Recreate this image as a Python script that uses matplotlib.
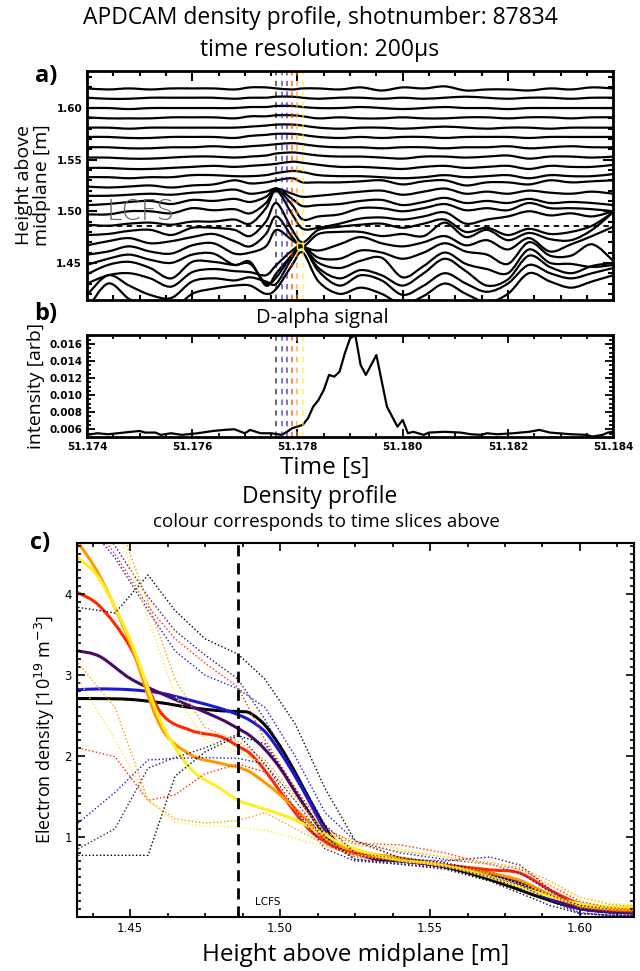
import numpy as np
import matplotlib
matplotlib.use("Agg")
import matplotlib.pyplot as plt
from matplotlib.path import Path
from matplotlib.patches import PathPatch
from matplotlib.ticker import MultipleLocator, FormatStrFormatter

plt.rcParams["font.family"] = ["Open Sans", "DejaVu Sans"]

# ---------- panel a: contour traces (time in ms after 51.174 s, height in mm) ----------
trace_t_ms = [0.0, 0.4, 0.8, 1.2, 1.6, 2.0, 2.4, 2.8, 3.1, 3.4, 3.6, 3.9, 4.1, 4.4, 4.8,
              5.2, 5.6, 6.0, 6.4, 6.8, 7.2, 7.6, 8.0, 8.4, 8.8, 9.2, 9.6, 10.0]
trace_heights_mm = [
    [1619, 1618, 1619, 1618, 1619, 1619, 1619, 1618, 1620, 1620, 1619, 1618, 1619, 1619, 1618, 1620, 1617, 1620, 1619, 1621, 1617, 1618, 1618, 1617, 1619, 1618, 1620, 1619],
    [1610, 1609, 1609, 1610, 1610, 1610, 1610, 1609, 1610, 1610, 1611, 1611, 1610, 1609, 1610, 1610, 1609, 1610, 1609, 1610, 1611, 1610, 1609, 1610, 1610, 1609, 1610, 1610],
    [1600, 1600, 1599, 1600, 1600, 1600, 1600, 1600, 1601, 1601, 1602, 1602, 1601, 1600, 1600, 1601, 1600, 1599, 1600, 1601, 1600, 1600, 1599, 1600, 1600, 1600, 1600, 1600],
    [1591, 1590, 1590, 1590, 1591, 1591, 1591, 1590, 1592, 1592, 1593, 1593, 1592, 1590, 1591, 1590, 1590, 1591, 1590, 1590, 1591, 1591, 1590, 1591, 1591, 1590, 1591, 1591],
    [1581, 1581, 1580, 1581, 1581, 1581, 1581, 1581, 1582, 1583, 1584, 1584, 1583, 1581, 1580, 1581, 1581, 1580, 1581, 1582, 1581, 1580, 1581, 1581, 1580, 1581, 1581, 1581],
    [1572, 1572, 1571, 1571, 1572, 1572, 1572, 1571, 1573, 1574, 1575, 1575, 1574, 1572, 1571, 1572, 1571, 1572, 1572, 1571, 1572, 1572, 1572, 1571, 1572, 1572, 1572, 1572],
    [1562, 1562, 1561, 1561, 1562, 1562, 1563, 1562, 1563, 1564, 1565, 1566, 1565, 1563, 1562, 1562, 1561, 1562, 1562, 1561, 1562, 1562, 1563, 1561, 1562, 1563, 1562, 1562],
    [1552, 1552, 1551, 1551, 1552, 1553, 1553, 1552, 1553, 1554, 1556, 1557, 1556, 1554, 1553, 1553, 1552, 1551, 1553, 1553, 1552, 1553, 1554, 1551, 1553, 1553, 1552, 1553],
    [1542, 1542, 1541, 1541, 1542, 1543, 1544, 1543, 1544, 1545, 1546, 1548, 1547, 1545, 1543, 1543, 1542, 1541, 1543, 1544, 1542, 1543, 1544, 1541, 1544, 1543, 1543, 1545],
    [1533, 1533, 1532, 1533, 1533, 1535, 1535, 1534, 1534, 1535, 1537, 1539, 1538, 1535, 1534, 1534, 1533, 1532, 1533, 1535, 1533, 1534, 1535, 1532, 1535, 1534, 1534, 1536],
    [1524, 1523, 1524, 1525, 1523, 1525, 1526, 1530, 1527, 1528, 1530, 1532, 1528, 1528, 1528, 1529, 1530, 1526, 1529, 1530, 1525, 1528, 1528, 1526, 1530, 1528, 1529, 1530],
    [1515, 1515, 1516, 1517, 1516, 1518, 1519, 1521, 1517, 1519, 1522, 1517, 1514, 1515, 1517, 1519, 1520, 1516, 1519, 1522, 1517, 1519, 1517, 1520, 1518, 1517, 1519, 1517],
    [1506, 1507, 1509, 1510, 1507, 1511, 1510, 1512, 1509, 1514, 1522, 1512, 1505, 1506, 1507, 1510, 1511, 1506, 1509, 1513, 1508, 1510, 1508, 1512, 1508, 1509, 1508, 1506],
    [1497, 1497, 1500, 1500, 1498, 1503, 1501, 1502, 1498, 1508, 1521, 1506, 1492, 1495, 1497, 1503, 1503, 1500, 1503, 1507, 1501, 1503, 1501, 1508, 1503, 1503, 1502, 1500],
    [1487, 1486, 1488, 1489, 1487, 1490, 1490, 1492, 1488, 1503, 1520, 1497, 1483, 1484, 1488, 1493, 1494, 1492, 1495, 1499, 1488, 1492, 1495, 1500, 1496, 1498, 1495, 1500],
    [1477, 1478, 1481, 1482, 1477, 1484, 1484, 1482, 1476, 1490, 1508, 1482, 1470, 1482, 1485, 1487, 1488, 1484, 1488, 1492, 1480, 1484, 1477, 1483, 1478, 1480, 1486, 1499],
    [1467, 1471, 1474, 1469, 1471, 1475, 1478, 1471, 1466, 1478, 1495, 1475, 1466, 1478, 1480, 1480, 1476, 1478, 1476, 1489, 1475, 1482, 1472, 1479, 1473, 1472, 1482, 1499],
    [1458, 1461, 1466, 1461, 1459, 1467, 1469, 1459, 1460, 1466, 1482, 1472, 1466, 1462, 1468, 1475, 1469, 1466, 1470, 1476, 1467, 1472, 1463, 1474, 1461, 1468, 1476, 1485],
    [1448, 1454, 1458, 1453, 1450, 1458, 1459, 1448, 1451, 1428, 1440, 1458, 1466, 1455, 1454, 1462, 1460, 1454, 1460, 1469, 1461, 1458, 1449, 1470, 1457, 1457, 1468, 1452],
    [1439, 1448, 1451, 1445, 1435, 1451, 1451, 1448, 1449, 1430, 1436, 1458, 1465, 1450, 1445, 1452, 1455, 1436, 1447, 1460, 1449, 1444, 1440, 1463, 1450, 1449, 1446, 1448],
    [1430, 1438, 1440, 1435, 1427, 1441, 1444, 1442, 1441, 1438, 1448, 1462, 1466, 1445, 1435, 1443, 1438, 1428, 1440, 1454, 1442, 1428, 1434, 1457, 1446, 1440, 1447, 1450],
    [1419, 1438, 1428, 1419, 1416, 1432, 1435, 1433, 1436, 1432, 1430, 1455, 1466, 1442, 1428, 1438, 1433, 1419, 1428, 1440, 1430, 1422, 1430, 1448, 1440, 1435, 1440, 1445],
    [1405, 1430, 1415, 1406, 1404, 1420, 1425, 1428, 1428, 1420, 1425, 1448, 1460, 1432, 1420, 1426, 1420, 1410, 1418, 1430, 1420, 1412, 1420, 1440, 1432, 1426, 1432, 1438],
]
lcfs_height = 1.486

# time slices (shared by all panels)
slice_times = [51.1776, 51.1777, 51.1778, 51.1779, 51.1780, 51.1781]
slice_colors = ["#000000", "#1a1ad6", "#4a0a6a", "#ff2a00", "#ff9900", "#ffee22"]

# ---------- panel b: D-alpha signal ----------
dalpha_t_ms = [0.0, 0.2, 0.4, 0.7, 1.0, 1.1, 1.3, 1.4, 1.6, 1.8, 2.1, 2.4, 2.6, 2.8, 3.0,
               3.1, 3.3, 3.5, 3.7, 3.8, 3.9, 4.1, 4.2, 4.3, 4.4, 4.5, 4.6, 4.7, 4.8, 4.9,
               5.0, 5.1, 5.2, 5.3, 5.5, 5.7, 5.9, 6.0, 6.1, 6.2, 6.4, 6.5, 6.8, 7.1, 7.3,
               7.5, 7.6, 7.8, 8.1, 8.4, 8.6, 8.8, 9.2, 9.5, 9.6, 9.8, 9.9, 10.0]
dalpha_signal = [0.00534, 0.00553, 0.00541, 0.00561, 0.00580, 0.00561, 0.00561, 0.00534,
                 0.00553, 0.00534, 0.00553, 0.00580, 0.00592, 0.00600, 0.00553, 0.00592,
                 0.00553, 0.00553, 0.00534, 0.00570, 0.00612, 0.00651, 0.00729, 0.00866,
                 0.00944, 0.01061, 0.01237, 0.01217, 0.01276, 0.01491, 0.01666, 0.01705,
                 0.01354, 0.01237, 0.01471, 0.00866, 0.00631, 0.00709, 0.00553, 0.00570,
                 0.00534, 0.00561, 0.00570, 0.00561, 0.00541, 0.00534, 0.00553, 0.00541,
                 0.00553, 0.00570, 0.00592, 0.00561, 0.00541, 0.00534, 0.00514, 0.00534,
                 0.00561, 0.00570]

# ---------- panel c: density profiles ----------
prof_height = [1.4327, 1.44, 1.45, 1.46, 1.47, 1.48, 1.486, 1.49, 1.495, 1.50, 1.505, 1.51,
               1.515, 1.52, 1.53, 1.54, 1.55, 1.56, 1.57, 1.58, 1.59, 1.60, 1.61, 1.6185]
ne_black = [2.71, 2.71, 2.70, 2.66, 2.60, 2.56, 2.55, 2.53, 2.38, 2.12, 1.80, 1.45,
            1.12, 0.90, 0.74, 0.70, 0.66, 0.58, 0.47, 0.34, 0.21, 0.11, 0.07, 0.06]
ne_blue = [2.82, 2.83, 2.82, 2.78, 2.69, 2.59, 2.51, 2.44, 2.30, 2.05, 1.75, 1.42,
           1.08, 0.86, 0.76, 0.71, 0.66, 0.60, 0.53, 0.42, 0.24, 0.11, 0.07, 0.06]
ne_purple = [3.30, 3.23, 2.96, 2.78, 2.62, 2.46, 2.34, 2.25, 2.08, 1.85, 1.56, 1.28,
             1.02, 0.86, 0.75, 0.71, 0.66, 0.61, 0.55, 0.44, 0.26, 0.12, 0.08, 0.07]
ne_red = [4.02, 3.85, 3.35, 2.55, 2.32, 2.24, 2.12, 2.03, 1.82, 1.56, 1.30, 1.08,
          0.94, 0.84, 0.76, 0.73, 0.67, 0.63, 0.59, 0.55, 0.34, 0.17, 0.10, 0.08]
ne_orange = [4.64, 4.22, 3.40, 2.38, 2.02, 1.91, 1.86, 1.80, 1.67, 1.52, 1.35, 1.17,
             0.98, 0.88, 0.79, 0.74, 0.67, 0.61, 0.55, 0.46, 0.28, 0.15, 0.11, 0.10]
ne_yellow = [4.45, 4.18, 3.44, 2.45, 1.85, 1.60, 1.45, 1.40, 1.34, 1.28, 1.21, 1.12,
             1.03, 0.92, 0.79, 0.71, 0.67, 0.60, 0.50, 0.38, 0.26, 0.17, 0.13, 0.13]

err_height = [1.4327, 1.445, 1.456, 1.465, 1.475, 1.486, 1.495, 1.505, 1.515, 1.525,
              1.54, 1.555, 1.57, 1.58, 1.59, 1.60, 1.61, 1.6185]
ne_black_hi = [3.84, 3.77, 4.24, 3.80, 3.45, 3.26, 2.95, 2.40, 1.60, 0.95, 0.74, 0.68, 0.55, 0.42, 0.28, 0.15, 0.10, 0.08]
ne_black_lo = [0.77, 0.77, 0.77, 1.75, 2.05, 2.25, 2.15, 1.60, 1.00, 0.72, 0.66, 0.60, 0.45, 0.30, 0.15, 0.05, 0.03, 0.03]
ne_blue_hi = [5.00, 4.45, 3.80, 3.30, 3.00, 2.83, 2.60, 2.00, 1.30, 0.95, 0.80, 0.72, 0.66, 0.55, 0.32, 0.12, 0.06, 0.05]
ne_blue_lo = [1.17, 1.55, 1.95, 1.97, 1.98, 1.97, 1.90, 1.45, 0.95, 0.72, 0.68, 0.63, 0.52, 0.40, 0.22, 0.06, 0.03, 0.02]
ne_purple_hi = [5.20, 4.60, 3.97, 3.55, 3.25, 2.95, 2.45, 1.80, 1.15, 0.80, 0.72, 0.70, 0.75, 0.65, 0.35, 0.10, 0.05, 0.04]
ne_purple_lo = [0.85, 1.10, 1.85, 1.98, 2.10, 2.27, 1.90, 1.35, 0.85, 0.70, 0.66, 0.62, 0.50, 0.36, 0.20, 0.05, 0.02, 0.02]
ne_red_hi = [5.10, 4.50, 3.85, 3.45, 3.15, 2.85, 2.20, 1.60, 1.10, 0.92, 0.90, 0.80, 0.65, 0.60, 0.40, 0.20, 0.12, 0.10]
ne_red_lo = [2.10, 1.99, 1.45, 1.52, 1.78, 1.90, 1.80, 1.35, 0.95, 0.75, 0.70, 0.66, 0.55, 0.45, 0.28, 0.12, 0.08, 0.07]
ne_orange_hi = [6.00, 5.00, 3.90, 2.95, 2.35, 2.18, 1.95, 1.50, 1.05, 0.90, 0.82, 0.75, 0.68, 0.62, 0.45, 0.25, 0.16, 0.14]
ne_orange_lo = [3.15, 2.60, 1.45, 1.22, 1.17, 1.20, 1.30, 1.10, 0.90, 0.76, 0.70, 0.64, 0.55, 0.46, 0.30, 0.13, 0.09, 0.08]
ne_yellow_hi = [6.00, 4.90, 3.70, 2.75, 2.20, 2.05, 1.90, 1.45, 1.05, 0.95, 0.85, 0.75, 0.65, 0.58, 0.40, 0.25, 0.18, 0.16]
ne_yellow_lo = [2.95, 2.20, 1.45, 1.18, 1.13, 1.12, 1.08, 0.98, 0.88, 0.78, 0.72, 0.65, 0.52, 0.42, 0.28, 0.14, 0.10, 0.09]

solid_profiles = [ne_black, ne_blue, ne_purple, ne_red, ne_orange, ne_yellow]
error_profiles = [(ne_black_hi, ne_black_lo), (ne_blue_hi, ne_blue_lo),
                  (ne_purple_hi, ne_purple_lo), (ne_red_hi, ne_red_lo),
                  (ne_orange_hi, ne_orange_lo), (ne_yellow_hi, ne_yellow_lo)]


def smooth_line(ax, x, y, **kw):
    # draws a Catmull-Rom curve through the read points as cubic Bezier segments
    x = np.asarray(x, float)
    y = np.asarray(y, float)
    xp = np.concatenate([[x[0]], x, [x[-1]]])
    yp = np.concatenate([[y[0]], y, [y[-1]]])
    verts = [(x[0], y[0])]
    codes = [Path.MOVETO]
    for i in range(len(x) - 1):
        c1 = (x[i] + (xp[i + 2] - xp[i]) / 6, y[i] + (yp[i + 2] - yp[i]) / 6)
        c2 = (x[i + 1] - (xp[i + 3] - xp[i + 1]) / 6, y[i + 1] - (yp[i + 3] - yp[i + 1]) / 6)
        verts += [c1, c2, (x[i + 1], y[i + 1])]
        codes += [Path.CURVE4] * 3
    ax.add_patch(PathPatch(Path(verts, codes), fill=False, capstyle="round",
                           joinstyle="round", **kw))


def idl_style(ax, spine_lw, maj_len, min_len, tick_w):
    for s in ax.spines.values():
        s.set_linewidth(spine_lw)
    ax.tick_params(which="both", direction="in", top=True, right=True, width=tick_w)
    ax.tick_params(which="major", length=maj_len)
    ax.tick_params(which="minor", length=min_len)


fig = plt.figure(figsize=(6.4, 9.71), dpi=100)

fig.text(0.5, 0.981, "APDCAM density profile, shotnumber: 87834", ha="center", va="center", fontsize=16.5)
fig.text(0.5, 0.948, "time resolution: 200µs", ha="center", va="center", fontsize=16.5)

# ---------- a) ----------
ax_a = fig.add_axes([0.136, 0.691, 0.822, 0.236])
t0 = 51.174
tt = t0 + np.array(trace_t_ms) / 1000.0
for h in trace_heights_mm:
    smooth_line(ax_a, tt, np.array(h) / 1000.0, edgecolor="black", lw=1.6)
ax_a.axhline(lcfs_height, color="black", lw=1.3, ls=(0, (3, 2.5)))
for t, c in zip(slice_times, slice_colors):
    ax_a.axvline(t, color=c, lw=1.1, ls=(0, (3.5, 3.5)), alpha=0.75)
ax_a.plot([51.17805], [1.466], marker="s", ms=4, mfc="none", mec="#ffee22", mew=1)
ax_a.text(51.17438, 1.4995, "LCFS", fontsize=20, color="#666666", va="center",
          family="DejaVu Sans", fontweight="light")
ax_a.set_xlim(51.174, 51.184)
ax_a.set_ylim(1.414, 1.636)
ax_a.xaxis.set_major_locator(MultipleLocator(0.002))
ax_a.xaxis.set_minor_locator(MultipleLocator(0.0005))
ax_a.yaxis.set_major_locator(MultipleLocator(0.05))
ax_a.yaxis.set_minor_locator(MultipleLocator(0.01))
ax_a.yaxis.set_major_formatter(FormatStrFormatter("%.2f"))
ax_a.set_xticklabels([])
idl_style(ax_a, 2.0, 7, 3.5, 1.5)
for lab in ax_a.get_yticklabels():
    lab.set_family("DejaVu Sans")
    lab.set_fontweight("bold")
    lab.set_fontsize(7.5)
ax_a.set_ylabel("Height above\nmidplane [m]", fontsize=14, linespacing=1.0, labelpad=4)
fig.text(0.072, 0.922, "a)", fontsize=17, fontweight="bold", ha="center", va="center")

# ---------- b) ----------
ax_b = fig.add_axes([0.136, 0.5503, 0.822, 0.1047])
ax_b.plot(t0 + np.array(dalpha_t_ms) / 1000.0, dalpha_signal, color="black", lw=1.6)
for t, c in zip(slice_times, slice_colors):
    ax_b.axvline(t, color=c, lw=1.1, ls=(0, (3.5, 3.5)), alpha=0.75)
ax_b.set_xlim(51.174, 51.184)
ax_b.set_ylim(0.00513, 0.01706)
ax_b.xaxis.set_major_locator(MultipleLocator(0.002))
ax_b.xaxis.set_minor_locator(MultipleLocator(0.0005))
ax_b.yaxis.set_major_locator(MultipleLocator(0.002))
ax_b.yaxis.set_minor_locator(MultipleLocator(0.0005))
ax_b.xaxis.set_major_formatter(FormatStrFormatter("%.3f"))
ax_b.yaxis.set_major_formatter(FormatStrFormatter("%.3f"))
idl_style(ax_b, 2.0, 6, 3, 1.3)
for lab in ax_b.get_xticklabels() + ax_b.get_yticklabels():
    lab.set_family("DejaVu Sans")
    lab.set_fontweight("bold")
    lab.set_fontsize(7.5)
ax_b.set_ylabel("intensity [arb]", fontsize=14, labelpad=3)
fig.text(0.504, 0.672, "D-alpha signal", ha="center", va="center", fontsize=14.5)
fig.text(0.508, 0.518, "Time [s]", ha="center", va="center", fontsize=17.5)
fig.text(0.072, 0.677, "b)", fontsize=17, fontweight="bold", ha="center", va="center")

# ---------- c) ----------
fig.text(0.5, 0.488, "Density profile", ha="center", va="center", fontsize=16.5)
fig.text(0.51, 0.462, "colour corresponds to time slices above", ha="center", va="center", fontsize=13.5)
ax_c = fig.add_axes([0.1198, 0.0559, 0.8708, 0.3852])
for (hi, lo), c in zip(error_profiles, slice_colors):
    ax_c.plot(err_height, hi, color=c, lw=1.0, ls=(0, (1, 1.6)))
    ax_c.plot(err_height, lo, color=c, lw=1.0, ls=(0, (1, 1.6)))
for ne, c in zip(solid_profiles, slice_colors):
    smooth_line(ax_c, prof_height, ne, edgecolor=c, lw=2.2)
ax_c.axvline(lcfs_height, color="black", lw=2.0, ls=(0, (4, 2.5)))
ax_c.text(1.4917, 0.19, "LCFS", fontsize=7.5, va="center", family="DejaVu Sans")
ax_c.set_xlim(1.4322, 1.618)
ax_c.set_ylim(0.01, 4.64)
ax_c.xaxis.set_major_locator(MultipleLocator(0.05))
ax_c.xaxis.set_minor_locator(MultipleLocator(0.0125))
ax_c.yaxis.set_major_locator(MultipleLocator(1))
ax_c.yaxis.set_minor_locator(MultipleLocator(0.1))
ax_c.xaxis.set_major_formatter(FormatStrFormatter("%.2f"))
ax_c.yaxis.set_major_formatter(FormatStrFormatter("%d"))
idl_style(ax_c, 1.5, 6, 3, 1.2)
for lab in ax_c.get_xticklabels() + ax_c.get_yticklabels():
    lab.set_family("DejaVu Sans")
    lab.set_fontsize(8.5)
ax_c.set_xlabel("Height above midplane [m]", fontsize=17.5, labelpad=6)
ax_c.set_ylabel("Electron density [10$^{19}$ m$^{-3}$]", fontsize=13, labelpad=5)
fig.text(0.062, 0.441, "c)", fontsize=17, fontweight="bold", ha="center", va="center")

fig.savefig("out.png", dpi=100)
